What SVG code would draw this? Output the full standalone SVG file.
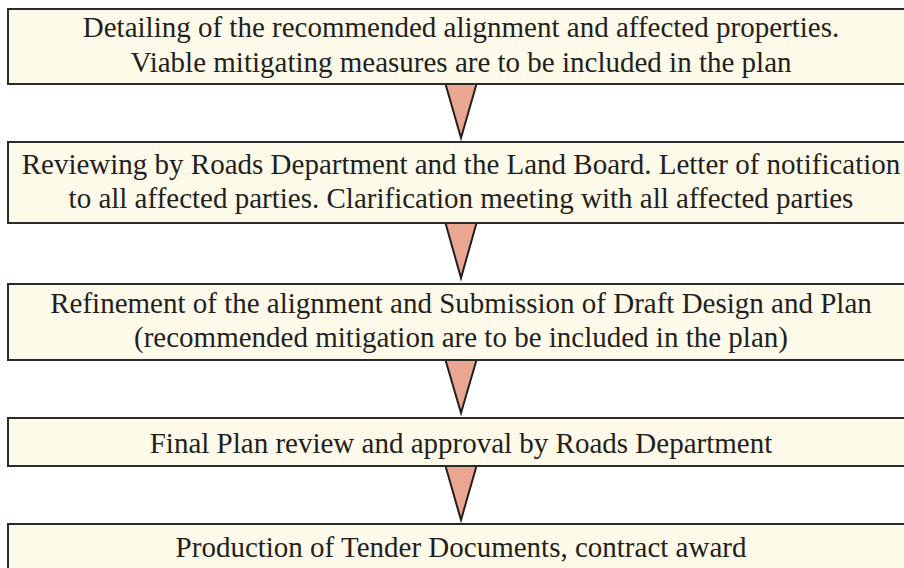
<svg xmlns="http://www.w3.org/2000/svg" width="904" height="568" viewBox="0 0 904 568">
<style>
.box{fill:#fefae9;stroke:#2b2b2b;stroke-width:2}
.arr{fill:#e9a690;stroke:#231f20;stroke-width:2;stroke-linejoin:miter}
text{font-family:"Liberation Serif","Times New Roman",serif;font-size:29px;fill:#231f20;text-anchor:middle}
</style>
<rect width="904" height="568" fill="#ffffff"/>
<g id="connectors">
<polygon class="arr" points="445.5,84 476.5,84 461,138"/>
<polygon class="arr" points="445.5,223 476.5,223 461,278"/>
<polygon class="arr" points="445.5,360 476.5,360 461,413"/>
<polygon class="arr" points="445.5,466 476.5,466 461,520"/>
</g>
<g id="node1">
<rect class="box" x="8" y="9" width="920" height="75"/>
<text x="461" y="37">Detailing of the recommended alignment and affected properties.</text>
<text x="461" y="72">Viable mitigating measures are to be included in the plan</text>
</g>
<g id="node2">
<rect class="box" x="8" y="142" width="920" height="81"/>
<text x="461" y="174">Reviewing by Roads Department and the Land Board. Letter of notification</text>
<text x="461" y="208">to all affected parties. Clarification meeting with all affected parties</text>
</g>
<g id="node3">
<rect class="box" x="8" y="284" width="920" height="76"/>
<text x="461" y="313">Refinement of the alignment and Submission of Draft Design and Plan</text>
<text x="461" y="347">(recommended mitigation are to be included in the plan)</text>
</g>
<g id="node4">
<rect class="box" x="8" y="418" width="920" height="48"/>
<text x="461" y="453">Final Plan review and approval by Roads Department</text>
</g>
<g id="node5">
<rect class="box" x="8" y="524" width="920" height="60"/>
<text x="461" y="557">Production of Tender Documents, contract award</text>
</g>
</svg>
